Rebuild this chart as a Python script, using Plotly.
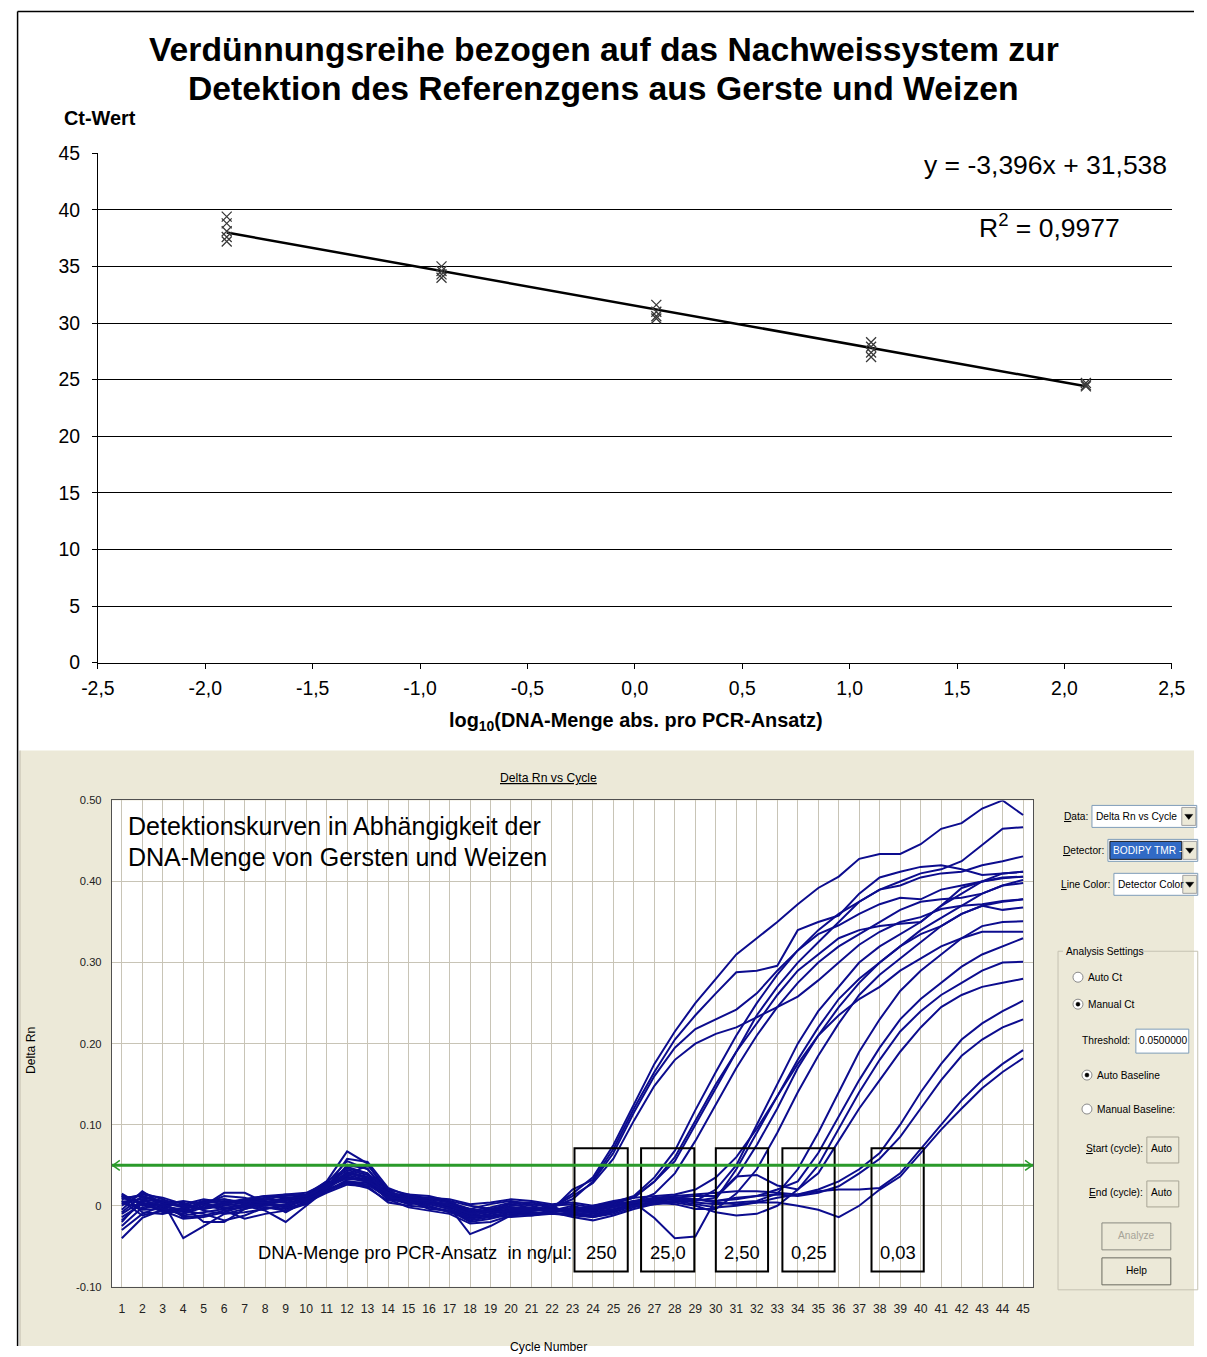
import plotly.graph_objects as go

W, H = 1207, 1357

# layout grid: positions below are given in page pixels and converted to
# paper fractions of the figure, which is framed with a small border
SX, OX = 0.977, 15.0
SY, OY = 0.985, 9.6
FS = 1.0 / 0.98  # font scale that goes with the framing


def X(px):
    return ((px - OX) / SX) / W


def Y(py):
    return 1 - ((py - OY) / SY) / H


def fs(size):
    return round(size * FS, 1)


# ---------------- standard curve (upper chart) ----------------
log_dna = [-1.9, -0.9, 0.1, 1.1, 2.1]
ct_replicates = [
    [39.4, 38.8, 38.1, 37.6, 37.2],
    [35.0, 34.6, 34.3, 34.0],
    [31.6, 31.0, 30.6, 30.4],
    [28.3, 27.9, 27.4, 27.0],
    [24.7, 24.5, 24.4],
]
slope = -3.396
intercept = 31.538
r_squared = 0.9977
x_ticks = [-2.5, -2.0, -1.5, -1.0, -0.5, 0.0, 0.5, 1.0, 1.5, 2.0, 2.5]
x_tick_text = ["-2,5", "-2,0", "-1,5", "-1,0", "-0,5", "0,0", "0,5", "1,0", "1,5", "2,0", "2,5"]
y_ticks = [0, 5, 10, 15, 20, 25, 30, 35, 40, 45]

# ---------------- amplification curves (lower chart) ----------------
cycles = list(range(1, 46))

# 250 ng/ul
dr_250_a = [-0.005, 0.018, 0.002, -0.008, 0.000, 0.016, 0.016, 0.004, 0.010, 0.012, 0.030, 0.067, 0.052, 0.015, 0.004, 0.002, -0.004, -0.014, -0.010, -0.006, -0.004, -0.002,
            0.015, 0.035, 0.075, 0.125, 0.175, 0.215, 0.250, 0.280, 0.310, 0.330, 0.350, 0.372, 0.392, 0.406, 0.428, 0.434, 0.434, 0.446, 0.465, 0.472, 0.490, 0.500, 0.482]
dr_250_b = [0.010, 0.012, 0.004, -0.002, 0.003, 0.006, 0.004, 0.008, 0.006, 0.012, 0.025, 0.040, 0.035, 0.012, 0.008, 0.005, 0.002, -0.008, -0.004, 0.002, -0.003, -0.005,
            0.020, 0.032, 0.070, 0.120, 0.165, 0.205, 0.235, 0.262, 0.288, 0.290, 0.296, 0.340, 0.350, 0.358, 0.385, 0.405, 0.412, 0.418, 0.420, 0.415, 0.408, 0.410, 0.412]
dr_250_c = [0.012, -0.005, -0.004, -0.006, 0.006, 0.002, 0.008, 0.012, 0.010, 0.010, 0.024, 0.048, 0.040, 0.014, 0.010, 0.008, 0.006, 0.000, -0.004, -0.008, -0.006, -0.002,
            0.008, 0.030, 0.065, 0.115, 0.160, 0.195, 0.218, 0.230, 0.242, 0.262, 0.290, 0.315, 0.335, 0.346, 0.360, 0.372, 0.380, 0.378, 0.390, 0.395, 0.400, 0.404, 0.406]
dr_250_d = [0.005, 0.008, -0.002, -0.004, 0.004, -0.004, -0.002, 0.006, -0.008, 0.006, 0.020, 0.028, 0.022, 0.006, 0.012, 0.010, 0.004, -0.004, 0.002, 0.006, 0.002, -0.002,
            0.012, 0.028, 0.058, 0.105, 0.148, 0.180, 0.200, 0.212, 0.220, 0.232, 0.245, 0.258, 0.278, 0.300, 0.322, 0.338, 0.350, 0.356, 0.366, 0.370, 0.372, 0.376, 0.378]
# 25,0 ng/ul
dr_25_a = [-0.040, -0.015, -0.005, -0.010, -0.002, 0.002, 0.000, 0.004, -0.002, 0.008, 0.020, 0.030, 0.028, 0.010, 0.006, 0.004, 0.000, -0.010, -0.006, -0.002, -0.006, -0.004,
           -0.004, 0.000, 0.004, 0.012, 0.035, 0.068, 0.118, 0.165, 0.210, 0.250, 0.285, 0.315, 0.340, 0.360, 0.375, 0.390, 0.400, 0.410, 0.415, 0.425, 0.445, 0.465, 0.467]
dr_25_b = [0.015, 0.000, 0.005, -0.040, -0.025, -0.010, -0.004, 0.002, 0.006, 0.010, 0.022, 0.035, 0.030, 0.008, 0.010, 0.006, -0.002, -0.012, -0.008, 0.004, 0.000, -0.006,
           0.000, -0.006, 0.002, 0.010, 0.030, 0.060, 0.105, 0.150, 0.190, 0.225, 0.260, 0.290, 0.310, 0.330, 0.340, 0.345, 0.348, 0.350, 0.370, 0.392, 0.400, 0.410, 0.412]
dr_25_c = [-0.025, -0.002, 0.002, 0.000, -0.020, -0.020, -0.004, 0.002, 0.008, 0.012, 0.028, 0.055, 0.045, 0.018, 0.006, 0.004, -0.002, -0.035, -0.025, -0.012, -0.006, -0.004,
           -0.008, -0.012, -0.006, 0.004, 0.015, 0.040, 0.080, 0.125, 0.170, 0.210, 0.245, 0.275, 0.300, 0.320, 0.335, 0.350, 0.365, 0.375, 0.378, 0.380, 0.385, 0.395, 0.398]
dr_25_d = [0.002, 0.010, 0.006, 0.004, -0.006, -0.010, -0.008, -0.004, 0.000, 0.006, 0.018, 0.032, 0.034, 0.016, 0.012, 0.008, 0.004, -0.006, -0.002, 0.004, 0.004, 0.000,
           0.002, -0.002, 0.004, 0.010, 0.030, 0.055, 0.100, 0.145, 0.190, 0.235, 0.270, 0.300, 0.325, 0.350, 0.375, 0.390, 0.395, 0.405, 0.410, 0.412, 0.420, 0.425, 0.431]
# 2,50 ng/ul
dr_2_5_a = [-0.018, 0.004, -0.002, -0.012, -0.008, -0.004, 0.002, 0.006, 0.004, 0.008, 0.026, 0.044, 0.038, 0.020, 0.014, 0.006, 0.000, -0.016, -0.012, -0.008, -0.010, -0.006,
            -0.006, -0.008, -0.004, 0.002, 0.004, 0.006, 0.006, 0.020, 0.050, 0.100, 0.150, 0.200, 0.240, 0.270, 0.300, 0.320, 0.335, 0.350, 0.370, 0.385, 0.400, 0.405, 0.406]
dr_2_5_b = [0.008, 0.014, 0.010, 0.002, 0.008, 0.004, 0.006, 0.010, 0.014, 0.016, 0.028, 0.038, 0.032, 0.012, 0.006, -0.004, -0.006, -0.012, -0.014, -0.010, -0.008, -0.010,
            -0.010, -0.014, -0.008, 0.004, -0.015, -0.040, -0.038, 0.008, 0.045, 0.090, 0.135, 0.180, 0.220, 0.255, 0.280, 0.300, 0.320, 0.335, 0.345, 0.360, 0.370, 0.375, 0.378]
dr_2_5_c = [-0.010, 0.006, 0.000, -0.006, -0.010, -0.018, -0.012, -0.002, -0.004, 0.004, 0.016, 0.026, 0.024, 0.004, 0.000, -0.002, -0.006, -0.020, -0.016, -0.010, -0.012, -0.008,
            -0.002, -0.004, 0.000, 0.004, 0.008, 0.010, 0.006, 0.010, 0.035, 0.075, 0.120, 0.170, 0.210, 0.245, 0.275, 0.300, 0.320, 0.340, 0.355, 0.370, 0.385, 0.395, 0.402]
dr_2_5_d = [0.014, -0.008, -0.010, -0.004, 0.002, 0.012, 0.010, 0.002, -0.002, 0.002, 0.022, 0.050, 0.046, 0.010, 0.002, 0.004, 0.002, -0.010, -0.004, 0.000, 0.002, 0.000,
            -0.012, -0.010, -0.006, 0.000, 0.004, 0.002, -0.004, -0.004, 0.015, 0.045, 0.090, 0.140, 0.185, 0.225, 0.260, 0.285, 0.305, 0.325, 0.345, 0.360, 0.370, 0.365, 0.368]
dr_2_5_e = [-0.030, -0.010, 0.000, 0.002, -0.004, 0.000, 0.004, 0.000, 0.002, 0.010, 0.024, 0.036, 0.030, 0.008, 0.004, 0.010, 0.008, 0.002, 0.004, 0.008, 0.006, 0.002,
            0.004, 0.000, 0.006, 0.010, 0.012, 0.014, 0.020, 0.035, 0.060, 0.095, 0.135, 0.175, 0.210, 0.235, 0.255, 0.270, 0.290, 0.305, 0.320, 0.330, 0.338, 0.338, 0.338]
# 0,25 ng/ul
dr_0_25_a = [0.000, 0.016, 0.008, -0.002, 0.002, -0.006, -0.016, -0.010, -0.006, 0.002, 0.020, 0.042, 0.036, 0.016, 0.010, 0.002, -0.004, -0.018, -0.014, -0.006, -0.004, -0.006,
             -0.004, -0.006, -0.002, 0.004, 0.006, 0.008, 0.004, 0.002, 0.004, 0.006, 0.015, 0.045, 0.090, 0.140, 0.190, 0.230, 0.265, 0.290, 0.310, 0.330, 0.345, 0.350, 0.351]
dr_0_25_b = [0.006, -0.012, -0.006, -0.016, -0.014, -0.008, 0.000, 0.008, 0.012, 0.014, 0.030, 0.046, 0.040, 0.012, 0.004, 0.000, -0.008, -0.016, -0.010, -0.004, -0.008, -0.010,
             -0.010, -0.012, -0.008, 0.000, 0.006, 0.010, 0.008, 0.006, 0.008, 0.012, 0.020, 0.030, 0.065, 0.110, 0.155, 0.195, 0.230, 0.255, 0.275, 0.295, 0.310, 0.320, 0.330]
dr_0_25_c = [-0.014, 0.002, 0.004, 0.000, 0.006, 0.008, 0.004, -0.002, -0.006, 0.004, 0.018, 0.030, 0.026, 0.014, 0.014, 0.012, 0.006, -0.008, -0.006, -0.002, -0.004, -0.008,
             -0.014, -0.018, -0.012, -0.004, 0.002, 0.004, 0.000, -0.008, -0.012, -0.010, 0.000, 0.020, 0.050, 0.095, 0.140, 0.180, 0.215, 0.240, 0.260, 0.275, 0.290, 0.300, 0.301]
dr_0_25_d = [0.010, 0.004, -0.008, -0.006, -0.002, 0.004, 0.008, 0.012, 0.014, 0.012, 0.026, 0.040, 0.034, 0.008, -0.002, -0.006, -0.010, -0.022, -0.020, -0.012, -0.010, -0.008,
             -0.006, -0.004, 0.000, 0.006, 0.008, 0.010, 0.012, 0.012, 0.036, 0.038, 0.025, 0.020, 0.040, 0.080, 0.120, 0.155, 0.190, 0.220, 0.245, 0.260, 0.270, 0.275, 0.280]
# 0,03 ng/ul
dr_0_03_a = [-0.020, 0.008, 0.004, -0.014, -0.012, -0.006, -0.002, 0.004, 0.008, 0.012, 0.024, 0.034, 0.030, 0.016, 0.008, 0.004, 0.000, -0.006, -0.008, -0.004, -0.004, -0.006,
             -0.008, -0.006, -0.002, 0.004, 0.008, 0.010, 0.008, 0.004, 0.002, 0.004, 0.010, 0.014, 0.020, 0.030, 0.045, 0.065, 0.100, 0.140, 0.175, 0.205, 0.225, 0.240, 0.253]
dr_0_03_b = [0.004, -0.004, 0.002, 0.006, 0.002, -0.002, 0.000, -0.006, -0.020, 0.000, 0.020, 0.038, 0.050, 0.020, 0.006, -0.002, -0.008, -0.014, -0.012, -0.014, -0.012, -0.010,
             -0.012, -0.014, -0.010, -0.002, 0.004, 0.006, 0.002, -0.002, 0.000, 0.004, 0.004, 0.000, -0.005, -0.014, 0.000, 0.020, 0.036, 0.065, 0.094, 0.120, 0.145, 0.165, 0.182]
dr_0_03_c = [-0.008, 0.012, 0.006, 0.000, -0.004, 0.002, 0.006, 0.004, 0.000, 0.006, 0.022, 0.058, 0.054, 0.022, 0.012, 0.006, 0.000, -0.010, -0.006, -0.002, -0.002, -0.004,
             -0.004, -0.002, 0.002, 0.006, 0.010, 0.012, 0.014, 0.016, 0.018, 0.018, 0.016, 0.014, 0.018, 0.020, 0.020, 0.022, 0.040, 0.070, 0.100, 0.130, 0.155, 0.175, 0.192]
dr_0_03_d = [0.012, 0.002, -0.004, -0.010, 0.004, 0.008, 0.002, -0.004, 0.002, 0.008, 0.018, 0.028, 0.026, 0.010, 0.008, 0.006, 0.002, -0.004, -0.008, -0.006, -0.006, -0.004,
             -0.010, -0.008, -0.006, 0.000, 0.002, 0.006, 0.008, 0.006, 0.010, 0.012, 0.014, 0.012, 0.016, 0.024, 0.040, 0.058, 0.085, 0.120, 0.155, 0.185, 0.205, 0.220, 0.230]

amplification_curves = [
    dr_250_a, dr_250_b, dr_250_c, dr_250_d,
    dr_25_a, dr_25_b, dr_25_c, dr_25_d,
    dr_2_5_a, dr_2_5_b, dr_2_5_c, dr_2_5_d, dr_2_5_e,
    dr_0_25_a, dr_0_25_b, dr_0_25_c, dr_0_25_d,
    dr_0_03_a, dr_0_03_b, dr_0_03_c, dr_0_03_d,
]
threshold = 0.05
dilution_labels = ["250", "25,0", "2,50", "0,25", "0,03"]
dr_ticks = [-0.1, 0.0, 0.1, 0.2, 0.3, 0.4, 0.5]
dr_tick_text = ["-0.10", "0", "0.10", "0.20", "0.30", "0.40", "0.50"]

# ---------------- styling ----------------
ARIAL = "Liberation Sans, Arial, sans-serif"
UI = "Liberation Sans, Arial, sans-serif"
BEIGE = "#ECE9D8"
GRID2 = "#C8C4B6"
CURVE = "#0C0C8E"
GREEN = "#2A9A2A"

# box spans (cycle) around each dilution's crossing region
box_spans = [(23.1, 25.7), (26.35, 28.95), (30.0, 32.55), (33.25, 35.8), (37.6, 40.15)]
box_y = (-0.081, 0.071)

fig = go.Figure()

# regression line
fx = [log_dna[0], log_dna[-1]]
fig.add_trace(go.Scatter(x=fx, y=[slope * v + intercept for v in fx], mode="lines",
                         line=dict(color="black", width=2.5), xaxis="x", yaxis="y", hoverinfo="skip"))
# replicate Ct markers
mx, my = [], []
for lx, reps in zip(log_dna, ct_replicates):
    for c in reps:
        mx.append(lx)
        my.append(c)
fig.add_trace(go.Scatter(x=mx, y=my, mode="markers", xaxis="x", yaxis="y",
                         marker=dict(symbol="x-thin-open", size=10, color="#3A3A3A",
                                     line=dict(width=1.3, color="#3A3A3A"))))

# amplification curves
for curve in amplification_curves:
    fig.add_trace(go.Scatter(x=cycles, y=curve, mode="lines", xaxis="x2", yaxis="y2",
                             line=dict(color=CURVE, width=2)))

shapes = []
ann = []


def text(px, py, s, anchor="left", size=10, color="black", family=UI, **kw):
    ann.append(dict(x=X(px), y=Y(py), xref="paper", yref="paper", text=s, showarrow=False,
                    xanchor=anchor, yanchor="middle",
                    font=dict(family=family, size=fs(size), color=color), **kw))


def rect_paper(x0, y0, x1, y1, fill, line="rgba(0,0,0,0)", lw=1, layer="above"):
    shapes.append(dict(type="rect", xref="paper", yref="paper", x0=x0, x1=x1, y0=y0, y1=y1,
                       fillcolor=fill, line=dict(color=line, width=lw), layer=layer))


def rect(x0, y0, x1, y1, fill, line="rgba(0,0,0,0)", lw=1, layer="above"):
    rect_paper(X(x0), Y(y1), X(x1), Y(y0), fill, line, lw, layer)


def seg_paper(x0, y0, x1, y1, color, lw=1, layer="above"):
    shapes.append(dict(type="line", xref="paper", yref="paper", x0=x0, x1=x1, y0=y0, y1=y1,
                       line=dict(color=color, width=lw), layer=layer))


# backgrounds and frames (the outer frame hugs the figure edge)
rect_paper(3 / W, 0, 1, Y(750), BEIGE, layer="below")
seg_paper(3 / W, 0, 3 / W, Y(750), "#B8B4A6", 1, layer="below")
rect(110, 800, 1033, 1287, "white", layer="below")
seg_paper(0.6 / W, 1 - 0.6 / H, 1, 1 - 0.6 / H, "black", 1.5)
seg_paper(0.6 / W, 0, 0.6 / W, 1 - 0.6 / H, "black", 1.5)

# ---------- upper chart texts ----------
text(603, 48, "<b>Verdünnungsreihe bezogen auf das Nachweissystem zur</b>", anchor="center", size=33, family=ARIAL)
text(603, 87, "<b>Detektion des Referenzgens aus Gerste und Weizen</b>", anchor="center", size=33, family=ARIAL)
text(60, 117, "<b>Ct-Wert</b>", size=19.5, family=ARIAL)
eq = ("y = %.3fx + %.3f" % (slope, intercept)).replace(".", ",")
text(1169, 164, eq, anchor="right", size=26, family=ARIAL)
text(977, 225, ("R<sup>2</sup> = %.4f" % r_squared).replace(".", ","), size=26, family=ARIAL)
text(635, 721, "<b>log<sub>10</sub>(DNA-Menge abs. pro PCR-Ansatz)</b>", anchor="center", size=19.5, family=ARIAL)

# ---------- lower chart texts ----------
text(548, 778, "<u>Delta Rn vs Cycle</u>", anchor="center", size=12)
text(29, 1050, "Delta Rn", anchor="center", size=12, textangle=-90)
text(548, 1347, "Cycle Number", anchor="center", size=12)
text(124, 826, "Detektionskurven in Abhängigkeit der", size=24.5, family=ARIAL)
text(124, 857, "DNA-Menge von Gersten und Weizen", size=24.5, family=ARIAL)
ann.append(dict(x=box_spans[0][0], y=-0.058, xref="x2", yref="y2", showarrow=False,
                text="DNA-Menge pro PCR-Ansatz \u00a0in ng/µl:", xanchor="right", yanchor="middle",
                font=dict(family=ARIAL, size=fs(18), color="black")))
for (b0, b1), lab in zip(box_spans, dilution_labels):
    shapes.append(dict(type="rect", xref="x2", yref="y2", x0=b0, x1=b1, y0=box_y[0], y1=box_y[1],
                       line=dict(color="black", width=2), fillcolor="rgba(0,0,0,0)", layer="above"))
    ann.append(dict(x=(b0 + b1) / 2, y=-0.058, xref="x2", yref="y2", showarrow=False, text=lab,
                    xanchor="center", yanchor="middle", font=dict(family=ARIAL, size=fs(18), color="black")))

# threshold line with chevron heads at both ends
x_lo, x_hi = 0.513, 45.487
shapes.append(dict(type="line", xref="x2", yref="y2", x0=x_lo, x1=x_hi, y0=threshold, y1=threshold,
                   line=dict(color=GREEN, width=3), layer="above"))
ty = 1206 - threshold * 812  # page row of the threshold
for tip, d in ((111, 1), (1032, -1)):
    shapes.append(dict(type="path", xref="paper", yref="paper",
                       path="M %f,%f L %f,%f L %f,%f" % (X(tip + 7 * d), Y(ty - 5), X(tip), Y(ty), X(tip + 7 * d), Y(ty + 5)),
                       line=dict(color=GREEN, width=1.5)))


# ---------- control panel ----------
def dropdown(x0, y0, x1, y1, label_right, label, value, highlight=False):
    text(label_right, (y0 + y1) / 2, label, anchor="right")
    rect(x0, y0, x1, y1, "white", "#7F9DB9", 1)
    if highlight:
        rect(x0 + 2, y0 + 2, x1 - 16, y1 - 2, "#316AC5", "#1A1A1A", 1)
        text(x0 + 3, (y0 + y1) / 2, value, color="white")
    else:
        text(x0 + 2, (y0 + y1) / 2, value)
    rect(x1 - 15, y0 + 2, x1 - 1, y1 - 2, BEIGE, "#A0A0A0", 1)
    cx, cy = x1 - 8, (y0 + y1) / 2
    shapes.append(dict(type="path", xref="paper", yref="paper",
                       path="M %f,%f L %f,%f L %f,%f Z" % (X(cx - 4), Y(cy - 2), X(cx + 4), Y(cy - 2), X(cx), Y(cy + 3)),
                       fillcolor="black", line=dict(color="black", width=0.5)))


dropdown(1092, 805, 1197, 827, 1090, "<u>D</u>ata:", "Delta Rn vs Cycle")
dropdown(1108, 839, 1198, 861, 1106, "<u>D</u>etector:", "BODIPY TMR -", highlight=True)
dropdown(1114, 873, 1198, 895, 1112, "<u>L</u>ine Color:", "Detector Color")

# group box
rect(1058, 951, 1198, 1290, "rgba(0,0,0,0)", "#C5C2B2", 1)
rect(1063, 944, 1142, 958, BEIGE)
text(1064, 951, "Analysis Settings")


def radio(cx, cy, label, checked):
    shapes.append(dict(type="circle", xref="paper", yref="paper", x0=X(cx - 5), x1=X(cx + 5),
                       y0=Y(cy + 5), y1=Y(cy - 5), fillcolor="white", line=dict(color="#8A8A8A", width=1)))
    if checked:
        shapes.append(dict(type="circle", xref="paper", yref="paper", x0=X(cx - 2), x1=X(cx + 2),
                           y0=Y(cy + 2), y1=Y(cy - 2), fillcolor="black", line=dict(color="black", width=0.5)))
    text(cx + 8, cy, label)


radio(1078, 977, "Auto Ct", False)
radio(1078, 1004, "Manual Ct", True)
text(1132, 1040, "Threshold:", anchor="right")
rect(1136, 1029, 1189, 1053, "white", "#7F9DB9", 1)
text(1137, 1040, "0.0500000")
radio(1087, 1075, "Auto Baseline", True)
radio(1087, 1109, "Manual Baseline:", False)
text(1145, 1149, "<u>S</u>tart (cycle):", anchor="right")
rect(1147, 1137, 1179, 1163, BEIGE, "#A8A596", 1)
text(1149, 1149, "Auto")
text(1145, 1193, "<u>E</u>nd (cycle):", anchor="right")
rect(1147, 1181, 1179, 1207, BEIGE, "#A8A596", 1)
text(1149, 1193, "Auto")
rect(1102, 1223, 1171, 1250, BEIGE, "#8A8A80", 1)
text(1136.5, 1236, "Analyze", anchor="center", color="#A6A397")
rect(1102, 1258, 1171, 1285, BEIGE, "#6A6A60", 1)
text(1136.5, 1271, "Help", anchor="center")

fig.update_layout(
    width=W, height=H, margin=dict(l=0, r=0, t=0, b=0), autosize=False,
    paper_bgcolor="white", plot_bgcolor="white", showlegend=False,
    shapes=shapes, annotations=ann,
    xaxis=dict(domain=[X(96), X(1172)], range=[-2.5, 2.5], anchor="y",
               tickvals=x_ticks, ticktext=x_tick_text, ticks="outside", ticklen=5, tickcolor="black",
               ticklabelstandoff=3,
               showline=True, linecolor="black", linewidth=1, showgrid=False, zeroline=False,
               tickfont=dict(family=ARIAL, size=fs(19), color="black")),
    yaxis=dict(domain=[Y(662), Y(152)], range=[0, 45], anchor="x",
               tickvals=y_ticks, ticks="outside", ticklen=5, tickcolor="black",
               ticklabelstandoff=8,
               showline=True, linecolor="black", linewidth=1, showgrid=True, gridcolor="black", gridwidth=1,
               zeroline=False, tickfont=dict(family=ARIAL, size=fs(19), color="black")),
    xaxis2=dict(domain=[X(110), X(1033)], range=[x_lo, x_hi], anchor="y2",
                tickvals=cycles, ticks="", ticklabelstandoff=11,
                showline=True, mirror=True, linecolor="#505050", linewidth=1,
                showgrid=True, gridcolor=GRID2, gridwidth=1, zeroline=False,
                tickfont=dict(family=UI, size=fs(12), color="#222222")),
    yaxis2=dict(domain=[Y(1287), Y(800)], range=[-0.1, 0.5], anchor="x2",
                tickvals=dr_ticks, ticktext=dr_tick_text, ticks="", ticklabelstandoff=7,
                showline=True, mirror=True, linecolor="#505050", linewidth=1,
                showgrid=True, gridcolor=GRID2, gridwidth=1, zeroline=False,
                tickfont=dict(family=UI, size=fs(11), color="#222222")),
)

fig.write_html("out.html")
